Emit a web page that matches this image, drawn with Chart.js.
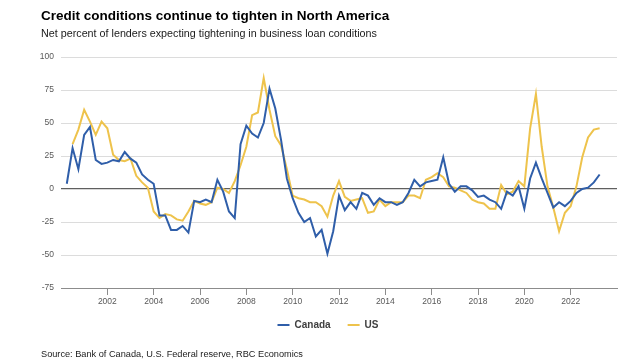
<!DOCTYPE html>
<html>
<head>
<meta charset="utf-8">
<script src="https://cdn.jsdelivr.net/npm/chart.js@4.4.0/dist/chart.umd.min.js"></script>
<style>
  html, body { margin: 0; padding: 0; background: #ffffff; }
  #wrap { position: relative; width: 640px; height: 362px; overflow: hidden; font-family: "Liberation Sans", Arial, sans-serif; }
  #chart { position: absolute; left: 0; top: 0; }
  .txt { position: absolute; white-space: nowrap; line-height: 1; }
  #title { left: 41px; top: 9.3px; font-size: 13.5px; font-weight: bold; color: #000; }
  #subtitle { left: 41px; top: 27.6px; font-size: 10.75px; color: #1a1a1a; }
  #source { left: 41px; top: 349.5px; font-size: 9.2px; color: #1a1a1a; }
</style>
</head>
<body>
<div id="wrap">
  <canvas id="chart" width="640" height="362"></canvas>
  <div class="txt" id="title">Credit conditions continue to tighten in North America</div>
  <div class="txt" id="subtitle">Net percent of lenders expecting tightening in business loan conditions</div>
  <div class="txt" id="source">Source: Bank of Canada, U.S. Federal reserve, RBC Economics</div>
</div>
<script>
// Quarterly categories: 2000 Q2 .. 2023 Q2
const quarters = [];
for (let y = 2000; y <= 2023; y++) {
  for (let q = 1; q <= 4; q++) {
    if ((y === 2000 && q === 1) || (y === 2023 && q > 2)) continue;
    quarters.push(y + ' Q' + q);
  }
}
const canada = [4,31,15,41,47,22,19,20,22,21,
  28,23,20,11,7,4,-20,-20,-31,-31,
  -28,-33,-9,-10,-8,-10,7,-2,-17,-22,
  34,48,42,39,50,76,61,37,8,-7,
  -18,-25,-22,-36,-31,-49,-32,-5,-16,-10,
  -15,-3,-5,-12,-7,-10,-10,-12,-10,-3,
  7,2,5,6,7,24,4,-2,2,2,
  -1,-6,-5,-8,-10,-15,-2,-5,2,-15,
  8,20,8,-3,-14,-10,-13,-9,-3,0,
  1,5,11];
const us = [null,34,45,60,51,41,51,46,26,22,
  21,23,10,5,1,-17,-22,-19,-20,-23,
  -24,-17,-9,-11,-12,-10,1,0,-3,6,
  18,32,56,58,84,60,40,33,15,-5,
  -7,-8,-10,-10,-13,-21,-5,6,-6,-9,
  -8,-7,-18,-17,-8,-13,-10,-10,-10,-5,
  -5,-7,7,9,12,9,2,1,-1,-3,
  -8,-10,-11,-15,-15,3,-4,-2,6,2,
  46,72,32,2,-14,-32,-18,-13,2,24,
  39,45,46];
const yearTicks = [2002,2004,2006,2008,2010,2012,2014,2016,2018,2020,2022];
const yTicks = [-75,-50,-25,0,25,50,75,100];

function qToX(label) {
  const [y, q] = label.split(' Q');
  return Number(y) + (Number(q) - 1) / 4;
}
function toPoints(vals) {
  return quarters.map((lab, i) => ({ x: qToX(lab), y: vals[i] }));
}

const FONT = "'Liberation Sans', Arial, sans-serif";

new Chart(document.getElementById('chart'), {
  type: 'line',
  data: {
    datasets: [
      { label: 'Canada', data: toPoints(canada), borderColor: '#2f5ea9', backgroundColor: '#2f5ea9',
        borderWidth: 2, pointRadius: 0, tension: 0, spanGaps: false },
      { label: 'US', data: toPoints(us), borderColor: '#eec34c', backgroundColor: '#eec34c',
        borderWidth: 2, pointRadius: 0, tension: 0, spanGaps: false }
    ]
  },
  options: {
    responsive: false,
    animation: false,
    devicePixelRatio: 1,
    layout: { padding: { left: 39, right: 23, top: 57, bottom: 22 } },
    plugins: {
      title: { display: false },
      tooltip: { enabled: false },
      legend: {
        display: true,
        position: 'bottom',
        labels: {
          usePointStyle: true,
          pointStyle: 'line',
          pointStyleWidth: 12,
          padding: 17,
          color: '#404040',
          font: { family: FONT, size: 10, weight: 'bold' }
        }
      }
    },
    scales: {
      x: {
        type: 'linear',
        min: 2000,
        max: 2024,
        afterBuildTicks: (axis) => { axis.ticks = yearTicks.map(v => ({ value: v })); },
        afterFit: (s) => { s.height = 15; s._computeLabelArea = () => undefined; },
        grid: { display: true, drawOnChartArea: false, drawTicks: true, tickLength: 7, color: '#8c8c8c', lineWidth: 1 },
        border: { display: true, color: '#8c8c8c', width: 1 },
        ticks: { color: '#595959', padding: 2, maxRotation: 0, autoSkip: false,
          font: { family: FONT, size: 8.5 }, callback: (v) => String(v) }
      },
      y: {
        min: -75,
        max: 100,
        afterBuildTicks: (axis) => { axis.ticks = yTicks.map(v => ({ value: v })); },
        afterFit: (s) => { s.width = 22; s._computeLabelArea = () => undefined; },
        grid: {
          drawTicks: false,
          color: (ctx) => (ctx.tick && ctx.tick.value === 0) ? '#5f5f5f' : '#dcdcdc',
          lineWidth: (ctx) => (ctx.tick && ctx.tick.value === 0) ? 1.2 : 1
        },
        border: { display: false },
        ticks: { color: '#595959', padding: 7, font: { family: FONT, size: 8.5 },
          callback: (v) => String(v) }
      }
    }
  }
});
</script>
</body>
</html>
